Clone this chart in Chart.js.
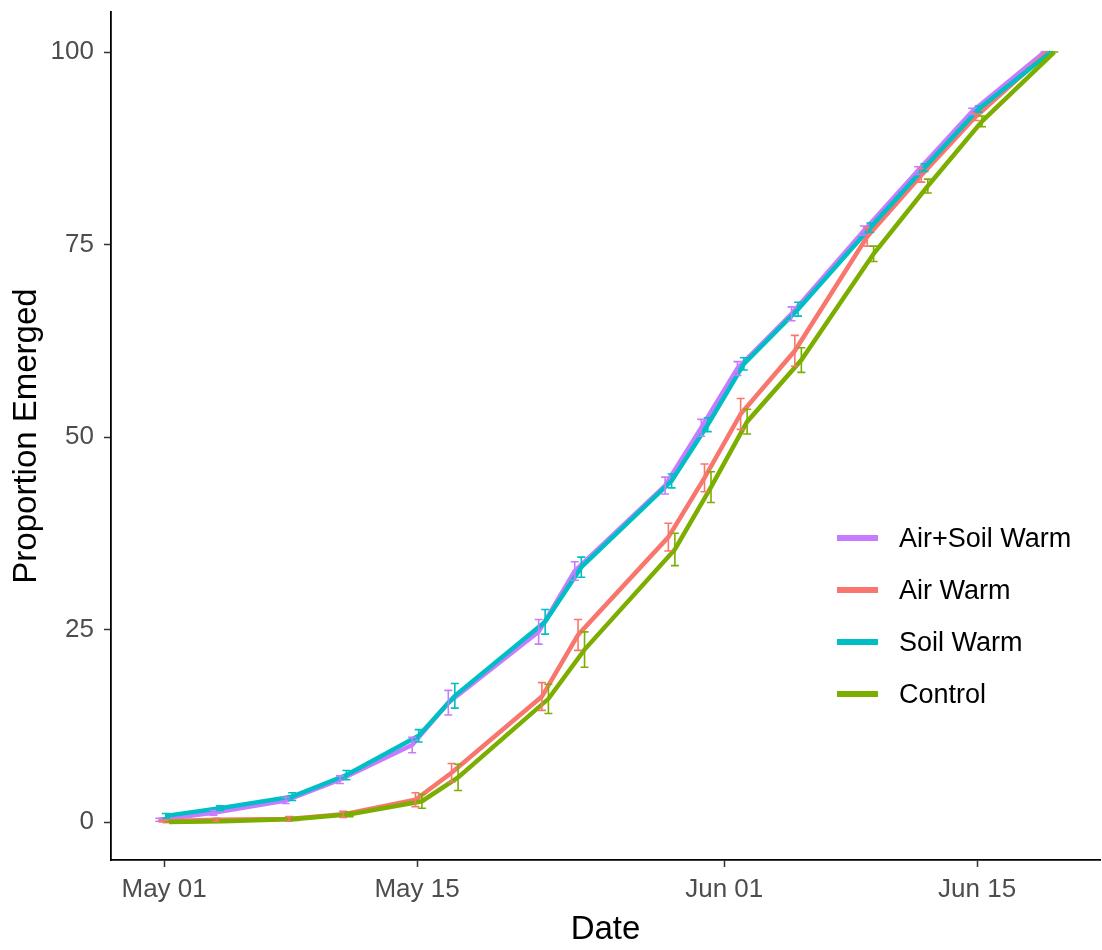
<!DOCTYPE html>
<html>
<head>
<meta charset="utf-8">
<title>Proportion Emerged</title>
<script src="https://cdn.jsdelivr.net/npm/chart.js@4.4.1/dist/chart.umd.min.js"></script>
<style>
  body { margin: 0; background: #fff; }
  #wrap { width: 1102px; height: 950px; }
</style>
</head>
<body>
<div id="wrap"><canvas id="emergeChart" width="1102" height="950"></canvas></div>
<script>
// observation dates (month-day)
const dates = ['05-01', '05-04', '05-08', '05-11', '05-15', '05-17', '05-22', '05-24',
               '05-29', '05-31', '06-02', '06-05', '06-09', '06-12', '06-15', '06-19'];

const seriesNames = ['Air+Soil Warm', 'Air Warm', 'Soil Warm', 'Control'];

// mean proportion emerged
const airSoilWarm = [0.3, 1.2, 2.8, 5.5, 10.0, 15.5, 24.7, 32.6, 43.7, 51.2, 58.9, 66.0, 76.8, 84.6, 92.3, 100];
const airWarm     = [0.1, 0.3, 0.4, 1.0, 2.9, 6.4, 16.3, 24.3, 37.0, 44.7, 53.0, 61.2, 76.0, 84.0, 91.6, 100];
const soilWarm    = [0.8, 1.8, 3.3, 6.1, 11.2, 16.4, 26.0, 33.1, 44.3, 51.6, 59.5, 66.6, 77.2, 85.0, 92.6, 100];
const control     = [0.0, 0.1, 0.4, 1.0, 2.7, 5.8, 16.0, 22.4, 35.4, 43.5, 52.0, 60.0, 73.8, 82.6, 91.0, 100];

// standard error (half height of error bar)
const airSoilErr = [0.2, 0.3, 0.4, 0.5, 1.0, 1.6, 1.6, 1.2, 1.1, 1.1, 0.9, 0.9, 0.6, 0.5, 0.4, 0];
const airErr     = [0.1, 0.2, 0.3, 0.4, 0.9, 1.2, 1.8, 2.0, 1.8, 1.8, 2.0, 2.0, 1.2, 0.9, 0.5, 0];
const soilErr    = [0.3, 0.3, 0.5, 0.6, 0.8, 1.6, 1.6, 1.3, 0.9, 0.9, 0.8, 0.9, 0.6, 0.5, 0.4, 0];
const controlErr = [0.0, 0.1, 0.2, 0.3, 0.9, 1.7, 1.9, 2.3, 2.1, 2.0, 1.6, 1.6, 1.0, 0.9, 0.7, 0];

// axis ticks
const xTickDates = ['05-01', '05-15', '06-01', '06-15'];
const xTickLabels = ['May 01', 'May 15', 'Jun 01', 'Jun 15'];
const yTicks = [0, 25, 50, 75, 100];

// styling
const colors = ['#C77CFF', '#F8766D', '#00BFC4', '#7CAE00'];
const dodge = [-0.27, -0.09, 0.09, 0.27];   // days, like position_dodge
const FONT = "'Liberation Sans', Arial, sans-serif";

// days since May 01
function dayNum(md) {
    const [m, d] = md.split('-').map(Number);
    return (Date.UTC(2020, m - 1, d) - Date.UTC(2020, 4, 1)) / 86400000;
}

const means = [airSoilWarm, airWarm, soilWarm, control];
const errs = [airSoilErr, airErr, soilErr, controlErr];

const datasets = seriesNames.map((name, i) => ({
    label: name,
    data: dates.map((d, j) => ({ x: dayNum(d) + dodge[i], y: means[i][j] })),
    borderColor: colors[i],
    backgroundColor: colors[i],
    borderWidth: 4.5,
    pointRadius: 0,
    tension: 0,
    order: 4 - i,
    errors: errs[i]
}));

// error bars drawn through the chart scales
const errorBars = {
    id: 'errorBars',
    afterDatasetsDraw(chart) {
        const ctx = chart.ctx;
        const xs = chart.scales.x, ys = chart.scales.y;
        ctx.save();
        chart.data.datasets.forEach(ds => {
            ctx.strokeStyle = ds.borderColor;
            ctx.lineWidth = 1.6;
            ds.data.forEach((p, j) => {
                const e = ds.errors[j];
                const px = xs.getPixelForValue(p.x);
                const top = ys.getPixelForValue(p.y + e);
                const bot = ys.getPixelForValue(p.y - e);
                const w = 4;
                ctx.beginPath();
                ctx.moveTo(px, top); ctx.lineTo(px, bot);
                ctx.moveTo(px - w, top); ctx.lineTo(px + w, top);
                ctx.moveTo(px - w, bot); ctx.lineTo(px + w, bot);
                ctx.stroke();
            });
        });
        ctx.restore();
    }
};

// legend placed inside the plot area
const insideLegend = {
    id: 'insideLegend',
    afterDraw(chart) {
        const ctx = chart.ctx;
        ctx.save();
        ctx.font = '27px ' + FONT;
        ctx.textBaseline = 'middle';
        ctx.fillStyle = '#000';
        seriesNames.forEach((name, i) => {
            const y = 538 + i * 52;
            ctx.strokeStyle = colors[i];
            ctx.lineWidth = 6;
            ctx.beginPath();
            ctx.moveTo(837, y);
            ctx.lineTo(878, y);
            ctx.stroke();
            ctx.fillText(name, 899, y + 2);
        });
        ctx.restore();
    }
};

const ctx = document.getElementById('emergeChart').getContext('2d');
const emergeChart = new Chart(ctx, {
    type: 'line',
    data: { datasets: datasets },
    plugins: [errorBars, insideLegend],
    options: {
        responsive: false,
        animation: false,
        layout: { padding: { top: 12, right: 2, left: 0, bottom: 0 } },
        plugins: {
            legend: { display: false },
            tooltip: { enabled: false }
        },
        scales: {
            x: {
                type: 'linear',
                min: -2.94,
                max: 51.8,
                afterBuildTicks: scale => {
                    scale.ticks = xTickDates.map(d => ({ value: dayNum(d) }));
                },
                afterFit: scale => {
                    scale.height = 90;
                    scale.paddingLeft = 0;
                    scale.paddingRight = 0;
                },
                ticks: {
                    color: '#4D4D4D',
                    font: { family: FONT, size: 26 },
                    padding: 7,
                    maxRotation: 0,
                    callback: (v, idx) => xTickLabels[idx]
                },
                grid: {
                    drawOnChartArea: false,
                    tickLength: 7,
                    tickColor: '#333',
                    tickWidth: 1.5
                },
                border: { color: '#000', width: 1.8 },
                title: {
                    display: true,
                    text: 'Date',
                    color: '#000',
                    font: { family: FONT, size: 33 },
                    padding: { top: 0, bottom: 0 }
                }
            },
            y: {
                min: -4.93,
                max: 105.2,
                afterBuildTicks: scale => {
                    scale.ticks = yTicks.map(v => ({ value: v }));
                },
                afterFit: scale => {
                    scale.width = 111;
                    scale.paddingTop = 0;
                    scale.paddingBottom = 0;
                },
                ticks: {
                    color: '#4D4D4D',
                    font: { family: FONT, size: 26 },
                    padding: 10
                },
                grid: {
                    drawOnChartArea: false,
                    tickLength: 7,
                    tickColor: '#333',
                    tickWidth: 1.5
                },
                border: { color: '#000', width: 1.8 },
                title: {
                    display: true,
                    text: 'Proportion Emerged',
                    color: '#000',
                    font: { family: FONT, size: 33 },
                    padding: { top: 7, bottom: 0 }
                }
            }
        }
    }
});
</script>
</body>
</html>
